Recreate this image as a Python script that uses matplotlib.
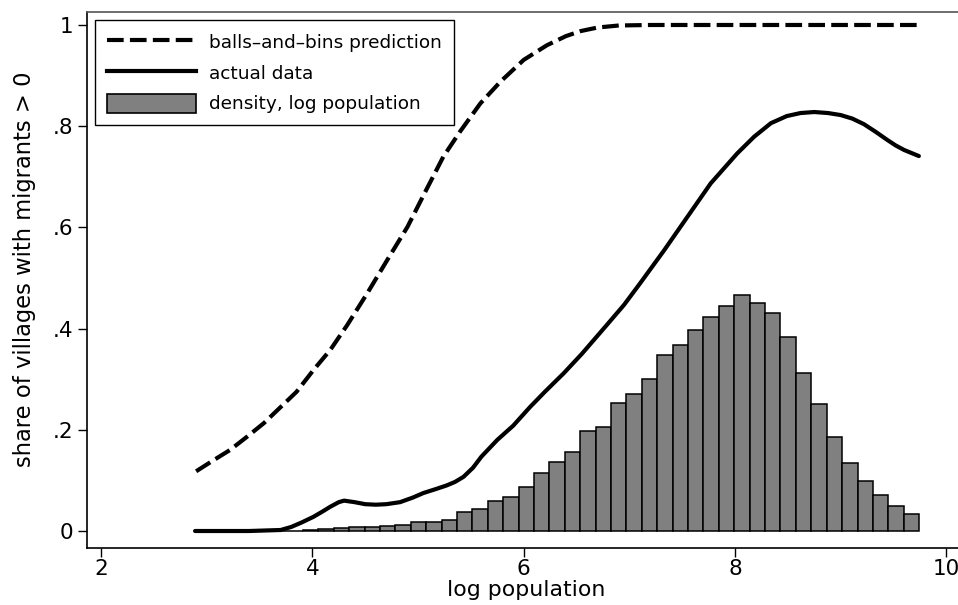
"""
Share of villages with migrants vs log population
(balls-and-bins prediction, actual data, density of log population)
"""
import numpy as np
import matplotlib
matplotlib.use("Agg")
import matplotlib.pyplot as plt
from matplotlib.lines import Line2D
from matplotlib.patches import Patch

# ---------------------------------------------------------------------------
# Data
# ---------------------------------------------------------------------------
pred_x = [2.90, 3.05, 3.22, 3.38, 3.54, 3.70, 3.85, 4.01, 4.17, 4.33, 4.52,
          4.71, 4.90, 5.08, 5.24, 5.40, 5.59, 5.78, 6.00, 6.22, 6.40, 6.54,
          6.70, 6.90, 7.20, 9.74]
pred_y = [0.118, 0.138, 0.160, 0.186, 0.213, 0.245, 0.275, 0.318, 0.358,
          0.407, 0.470, 0.536, 0.601, 0.675, 0.740, 0.790, 0.845, 0.888,
          0.931, 0.960, 0.978, 0.988, 0.995, 0.999, 1.0, 1.0]

actual_x = [2.89, 3.40, 3.70, 3.80, 3.90, 4.01, 4.10, 4.17, 4.25, 4.30, 4.40,
            4.50, 4.60, 4.70, 4.83, 4.95, 5.05, 5.17, 5.27, 5.35, 5.43, 5.52,
            5.60, 5.75, 5.90, 6.06, 6.20, 6.38, 6.55, 6.79, 6.95, 7.10, 7.33,
            7.55, 7.77, 8.02, 8.18, 8.34, 8.49, 8.62, 8.75, 8.88, 9.00, 9.11,
            9.22, 9.33, 9.44, 9.52, 9.60, 9.74]
actual_y = [0.0, 0.0, 0.002, 0.008, 0.017, 0.028, 0.039, 0.048, 0.057, 0.060,
            0.057, 0.053, 0.052, 0.053, 0.057, 0.066, 0.075, 0.083, 0.090,
            0.097, 0.107, 0.125, 0.147, 0.180, 0.208, 0.245, 0.275, 0.312,
            0.350, 0.408, 0.447, 0.489, 0.555, 0.621, 0.687, 0.746, 0.779,
            0.806, 0.820, 0.826, 0.828, 0.826, 0.822, 0.815, 0.804, 0.789,
            0.773, 0.762, 0.753, 0.741]

# histogram of log population: 47 bins starting at HIST_START
HIST_START = 2.89
HIST_WIDTH = 0.1458
density = [0, 0, 0, 0, 0, 0, 0.001, 0.002, 0.004, 0.006, 0.008, 0.008,
           0.0105, 0.0125, 0.0178, 0.0171, 0.0224, 0.0375, 0.044, 0.0593,
           0.0666, 0.087, 0.115, 0.137, 0.156, 0.198, 0.206, 0.2524, 0.2708,
           0.2998, 0.3472, 0.3676, 0.3972, 0.4235, 0.4453, 0.4658, 0.45,
           0.4314, 0.3834, 0.3128, 0.2504, 0.1852, 0.1344, 0.0982, 0.0706,
           0.05, 0.0336]

x_ticks = [2, 4, 6, 8, 10]
y_ticks = [0, 0.2, 0.4, 0.6, 0.8, 1.0]
y_tick_labels = ["0", ".2", ".4", ".6", ".8", "1"]

labels = ["balls\u2013and\u2013bins prediction", "actual data",
          "density, log population"]

# ---------------------------------------------------------------------------
# Plot
# ---------------------------------------------------------------------------
fig = plt.figure(figsize=(9.58, 6.05), dpi=100)
# right edge of the plot region sits just past the picture edge, as in the source
ax = fig.add_axes([0.0908, 0.0942, 0.916, 0.886])

edges = HIST_START + HIST_WIDTH * np.arange(len(density))
ax.bar(edges, density, width=HIST_WIDTH, align="edge", color="#808080",
       edgecolor="black", linewidth=1.1, zorder=2)

ax.plot(pred_x, pred_y, color="black", linewidth=3.0,
        linestyle=(0, (4.0, 1.5)), zorder=3)
ax.plot(actual_x, actual_y, color="black", linewidth=3.0,
        solid_capstyle="round", zorder=3)

ax.set_xlim(1.867, 10.172)
ax.set_ylim(-0.0336, 1.0257)
ax.set_xticks(x_ticks)
ax.set_yticks(y_ticks)
ax.set_yticklabels(y_tick_labels)

ax.tick_params(axis="both", direction="out", length=6.5, width=1.0,
               labelsize=15.5, colors="black")
ax.tick_params(axis="x", pad=1.5)
ax.tick_params(axis="y", pad=3.5)

for side in ("left", "bottom"):
    ax.spines[side].set_linewidth(1.2)
    ax.spines[side].set_color("black")
ax.spines["top"].set_linewidth(1.2)
ax.spines["top"].set_color("#555555")
ax.spines["right"].set_visible(False)

ax.set_xlabel("log population", fontsize=15.8)
ax.set_ylabel("share of villages with migrants > 0", fontsize=16.3)
ax.xaxis.set_label_coords(0.5, -0.06)
ax.yaxis.set_label_coords(-0.058, 0.52)

handles = [
    Line2D([], [], color="black", linewidth=3.0, linestyle=(0, (4.0, 1.5))),
    Line2D([], [], color="black", linewidth=3.0),
    Patch(facecolor="#808080", edgecolor="black", linewidth=1.2),
]
leg = ax.legend(handles, labels, loc="upper left",
                bbox_to_anchor=(0.0092, 0.985), borderaxespad=0,
                fontsize=13.3, frameon=True, fancybox=False,
                edgecolor="black", framealpha=1, handlelength=4.8,
                handleheight=1.2, handletextpad=0.7, labelspacing=0.6,
                borderpad=0.65)
leg.get_frame().set_linewidth(1.0)

fig.savefig("out.png", dpi=100)
